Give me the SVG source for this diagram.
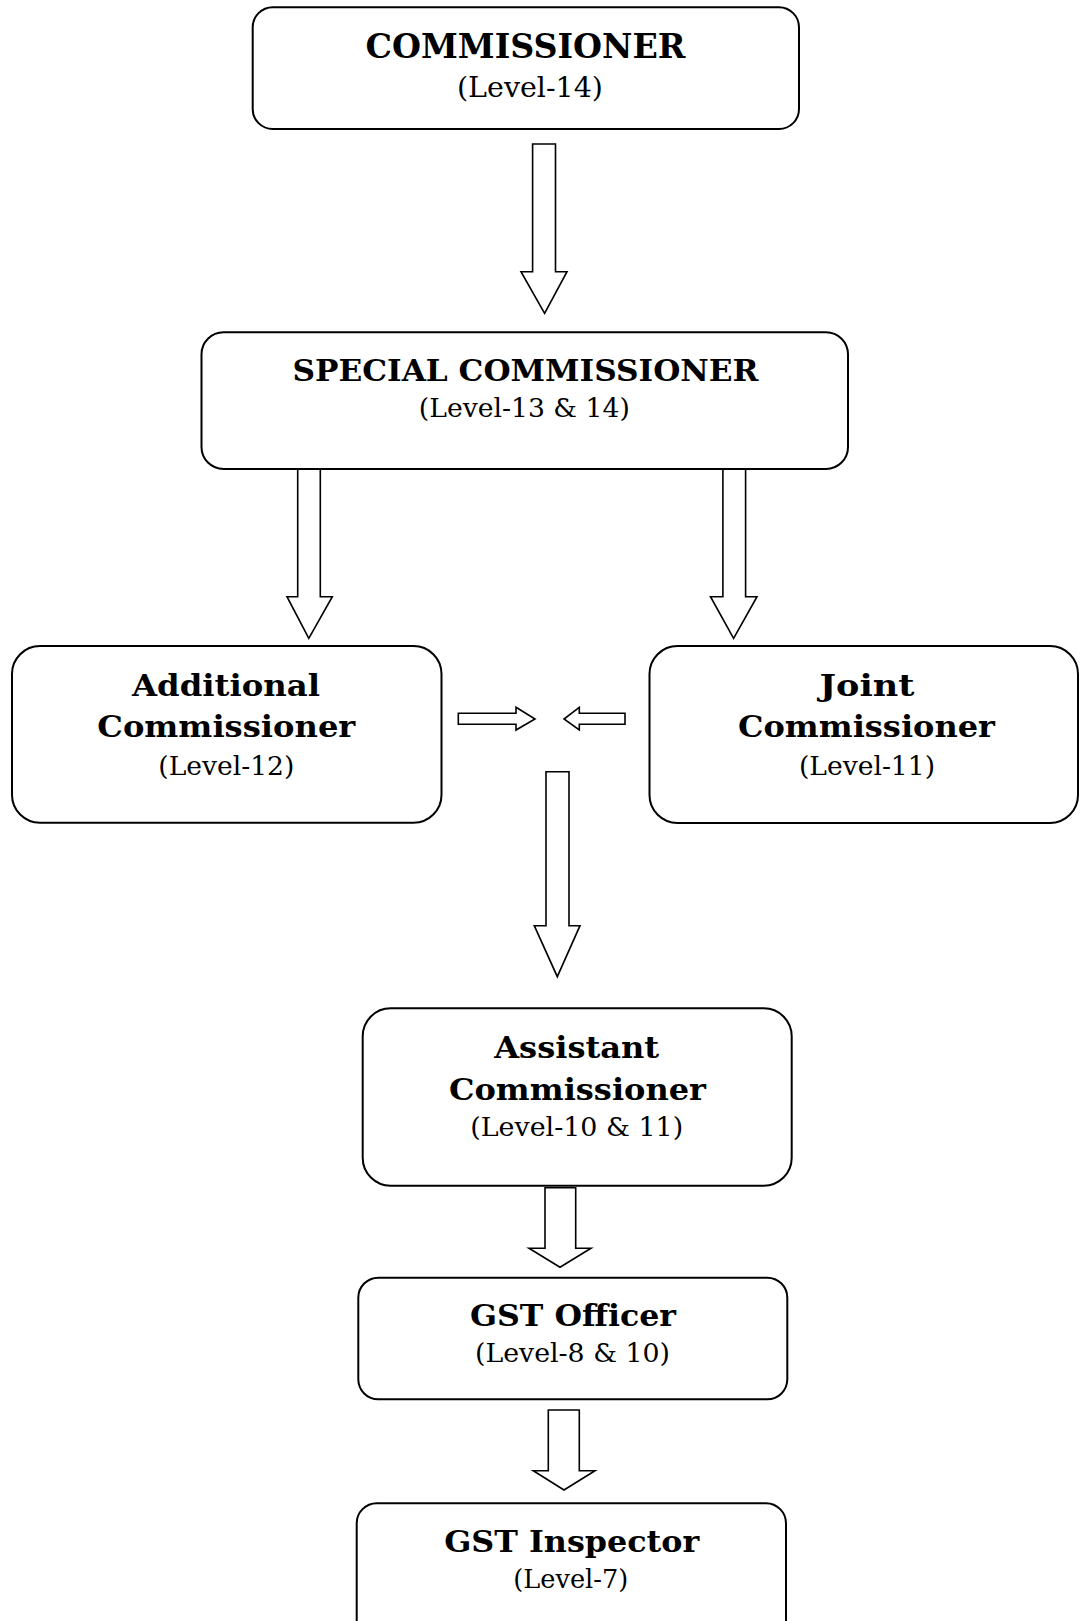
<svg xmlns="http://www.w3.org/2000/svg" width="1080" height="1621" viewBox="0 0 1080 1621">
<style>
.box{fill:#fff;stroke:#000;stroke-width:2}
.arr{fill:#fff;stroke:#000;stroke-width:1.6;stroke-linejoin:miter}
.t{font-family:"DejaVu Serif","Liberation Serif",serif;font-weight:bold;fill:#000;text-anchor:middle}
.l{font-family:"DejaVu Serif","Liberation Serif",serif;font-weight:normal;fill:#000;text-anchor:middle}
</style>
<rect width="1080" height="1621" fill="#fff"/>
<g id="connectors">
<polygon class="arr" points="532.6,144 555.5,144 555.5,271.7 567,271.7 544.6,313.3 521,271.7 532.6,271.7"/>
<polygon class="arr" points="297.7,469 320.3,469 320.3,596.7 332.3,596.7 308.8,638.3 287,596.7 297.7,596.7"/>
<polygon class="arr" points="722.9,469 745.6,469 745.6,596.7 757,596.7 733.6,638.3 710.5,596.7 722.9,596.7"/>
<polygon class="arr" points="458.3,713.3 516,713.3 516,707.3 535,719 516,730 516,724.3 458.3,724.3"/>
<polygon class="arr" points="625,713.3 579.3,713.3 579.3,707.3 564,719 579.3,730 579.3,724.3 625,724.3"/>
<polygon class="arr" points="546,771.7 569,771.7 569,925.7 580,925.7 557.3,976.7 534.3,925.7 546,925.7"/>
<polygon class="arr" points="545,1187.7 575.7,1187.7 575.7,1248.3 591,1248.3 560,1267.3 529,1248.3 545,1248.3"/>
<polygon class="arr" points="548.3,1410 579.3,1410 579.3,1470.7 595,1470.7 564,1490 533.3,1470.7 548.3,1470.7"/>
</g>
<g id="commissioner">
<rect class="box" x="252.7" y="7.3" width="546.3" height="121.7" rx="20"/>
<text class="t" x="525.5" y="58.3" font-size="34" textLength="320" lengthAdjust="spacingAndGlyphs">COMMISSIONER</text>
<text class="l" x="530" y="97" font-size="28.5" textLength="146" lengthAdjust="spacingAndGlyphs">(Level-14)</text>
</g>
<g id="special-commissioner">
<rect class="box" x="201.5" y="332.3" width="646.5" height="136.7" rx="22"/>
<text class="t" x="525.5" y="380.7" font-size="29" textLength="466" lengthAdjust="spacingAndGlyphs">SPECIAL COMMISSIONER</text>
<text class="l" x="524.3" y="416.7" font-size="26" textLength="211" lengthAdjust="spacingAndGlyphs">(Level-13 &amp; 14)</text>
</g>
<g id="additional-commissioner">
<rect class="box" x="12" y="646" width="429.5" height="176.7" rx="28"/>
<text class="t" x="226" y="696" font-size="30" textLength="188" lengthAdjust="spacingAndGlyphs">Additional</text>
<text class="t" x="226.3" y="736.7" font-size="30" textLength="258" lengthAdjust="spacingAndGlyphs">Commissioner</text>
<text class="l" x="226.3" y="775" font-size="26" textLength="136" lengthAdjust="spacingAndGlyphs">(Level-12)</text>
</g>
<g id="joint-commissioner">
<rect class="box" x="649.5" y="646" width="428.5" height="177" rx="28"/>
<text class="t" x="867" y="696" font-size="30" textLength="95" lengthAdjust="spacingAndGlyphs">Joint</text>
<text class="t" x="866.5" y="736.7" font-size="30" textLength="257" lengthAdjust="spacingAndGlyphs">Commissioner</text>
<text class="l" x="867" y="775" font-size="26" textLength="136" lengthAdjust="spacingAndGlyphs">(Level-11)</text>
</g>
<g id="assistant-commissioner">
<rect class="box" x="362.7" y="1008.3" width="429" height="177.4" rx="28"/>
<text class="t" x="576.7" y="1057.7" font-size="30" textLength="165" lengthAdjust="spacingAndGlyphs">Assistant</text>
<text class="t" x="577.5" y="1100" font-size="30" textLength="257" lengthAdjust="spacingAndGlyphs">Commissioner</text>
<text class="l" x="576.7" y="1136" font-size="26" textLength="213" lengthAdjust="spacingAndGlyphs">(Level-10 &amp; 11)</text>
</g>
<g id="gst-officer">
<rect class="box" x="358.3" y="1277.7" width="429" height="121.6" rx="20"/>
<text class="t" x="573" y="1326" font-size="29" textLength="206" lengthAdjust="spacingAndGlyphs">GST Officer</text>
<text class="l" x="572.5" y="1361.7" font-size="26" textLength="195" lengthAdjust="spacingAndGlyphs">(Level-8 &amp; 10)</text>
</g>
<g id="gst-inspector">
<rect class="box" x="356.7" y="1503.3" width="429.3" height="140" rx="20"/>
<text class="t" x="571.7" y="1551.7" font-size="29" textLength="255" lengthAdjust="spacingAndGlyphs">GST Inspector</text>
<text class="l" x="570.8" y="1588.3" font-size="26" textLength="115" lengthAdjust="spacingAndGlyphs">(Level-7)</text>
</g>
</svg>
